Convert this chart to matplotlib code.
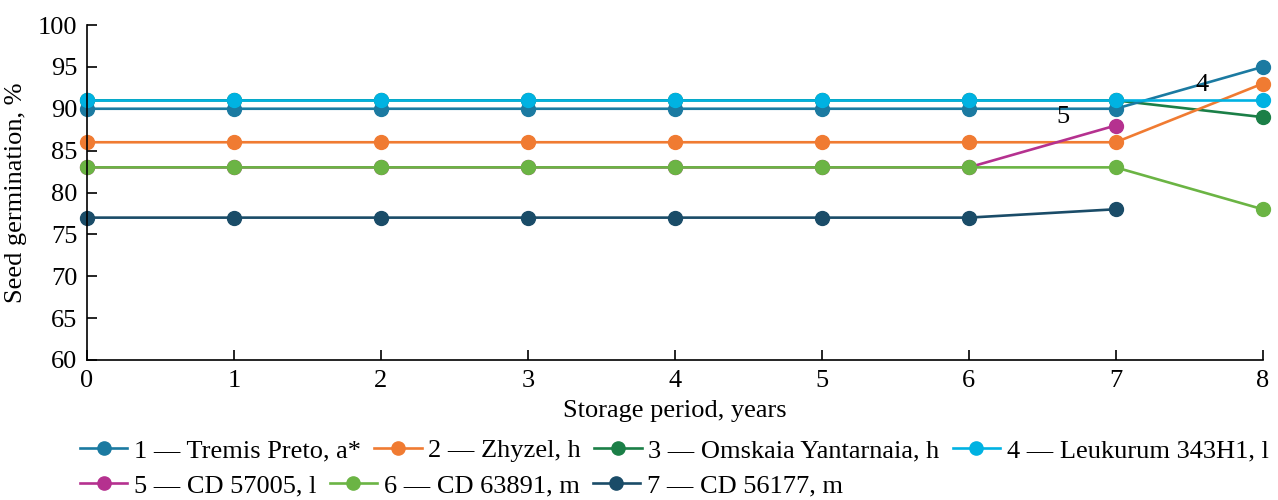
import numpy as np
import matplotlib
matplotlib.use("Agg")
import matplotlib.pyplot as plt

plt.rcParams['font.family'] = ['Liberation Serif', 'DejaVu Serif']

years = [0, 1, 2, 3, 4, 5, 6, 7, 8]

labels = ['1 — Tremis Preto, a*', '2 — Zhyzel, h', '3 — Omskaia Yantarnaia, h',
          '4 — Leukurum 343H1, l', '5 — CD 57005, l', '6 — CD 63891, m',
          '7 — CD 56177, m']
colors = ['#1b7aa1', '#f07b32', '#1b7f47', '#00b2e2', '#b5318f', '#6bb444', '#1a4c68']

tremis = [90, 90, 90, 90, 90, 90, 90, 90, 95]
zhyzel = [86, 86, 86, 86, 86, 86, 86, 86, 93]
omskaia = [91, 91, 91, 91, 91, 91, 91, 91, 89]
leukurum = [91, 91, 91, 91, 91, 91, 91, 91, 91]
cd57005 = [83, 83, 83, 83, 83, 83, 83, 88]
cd63891 = [83, 83, 83, 83, 83, 83, 83, 83, 78]
cd56177 = [77, 77, 77, 77, 77, 77, 77, 78]

series = [tremis, zhyzel, omskaia, leukurum, cd57005, cd63891, cd56177]

fig, ax = plt.subplots(figsize=(12.78, 5), dpi=100)
plt.subplots_adjust(left=0.068, right=0.988, top=0.95, bottom=0.28)

# draw back to front so cyan covers dark green, light green covers magenta
order = [2, 0, 1, 4, 5, 6, 3]
handles = {}
for i in order:
    y = series[i]
    h, = ax.plot(years[:len(y)], y, color=colors[i], lw=1.9, marker='o',
                 markersize=10, label=labels[i], clip_on=False)
    handles[i] = h

ax.text(6.64, 89.0, '5', fontsize=19, ha='center', va='center')
ax.text(7.585, 92.8, '4', fontsize=19, ha='center', va='center')

ax.set_xlim(0, 8)
ax.set_ylim(60, 100)
ax.set_xticks(years)
ax.set_yticks(np.arange(60, 101, 5))
ax.tick_params(direction='in', labelsize=19, length=7, width=1.2, pad=7)
ax.spines['top'].set_visible(False)
ax.spines['right'].set_visible(False)
ax.spines['left'].set_linewidth(1.2)
ax.spines['bottom'].set_linewidth(1.2)
ax.set_xlabel('Storage period, years', fontsize=19, labelpad=6)
ax.set_ylabel('Seed germination, %', fontsize=19, labelpad=8)

# two legend rows, each laid out on its own
leg_kw = dict(loc='upper left', frameon=False, fontsize=19, handlelength=1.8,
              handletextpad=0.25, columnspacing=0.5, borderaxespad=0,
              borderpad=0, markerscale=0.95)
row1 = [0, 1, 2, 3]
row2 = [4, 5, 6]
leg1 = ax.legend([handles[i] for i in row1], [labels[i] for i in row1],
                 ncol=len(row1), bbox_to_anchor=(-0.006, -0.235), **leg_kw)
ax.add_artist(leg1)
ax.legend([handles[i] for i in row2], [labels[i] for i in row2],
          ncol=len(row2), bbox_to_anchor=(-0.006, -0.34), **leg_kw)

plt.savefig('out.png', dpi=100)
